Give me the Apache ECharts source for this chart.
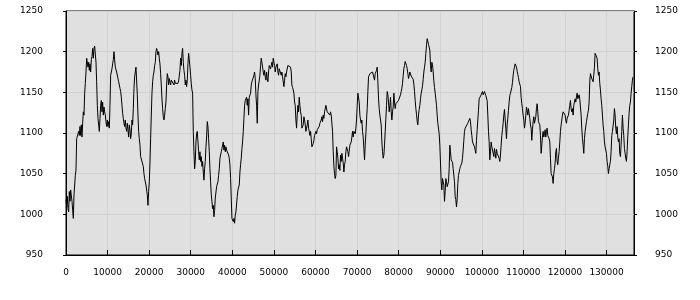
<!DOCTYPE html>
<html>
<head>
<meta charset="utf-8">
<script src="https://cdn.jsdelivr.net/npm/echarts@6/dist/echarts.min.js"></script>
<style>html,body{margin:0;padding:0;background:#fff}#c{width:700px;height:300px}</style>
</head>
<body>
<div id="c"></div>
<script>
// first sample at x = 0
const firstPoint = [0, 1018];
// x ranges covered by each traced segment
const segX = [[160,26123],[26283,53687],[53847,81412],[81572,108977],[109137,136542]];
const seg1 = [1009,1022,1007,1003,1028,1016,1030,1028,1016,1005,995,1024,1036,1048,1054,1093,1095,1099,1102,1097,1108,1097,1110,1095,1112,1126,1122,1149,1161,1175,1192,1190,1181,1187,1177,1185,1175,1190,1194,1204,1192,1204,1207,1209,1187,1163,1134,1118,1110,1102,1118,1134,1140,1126,1138,1122,1132,1126,1122,1114,1108,1116,1108,1114,1106,1134,1171,1175,1179,1185,1190,1200,1190,1181,1183,1175,1173,1167,1163,1159,1155,1151,1144,1134,1124,1118,1112,1108,1116,1106,1102,1112,1104,1095,1110,1104,1093,1099,1116,1110,1130,1155,1169,1175,1181,1179,1147,1122,1102,1093,1085,1071,1069,1071,1069,1059,1050,1044,1044,1036,1034,1024,1011,1028,1040,1063,1093,1122,1149,1163,1171,1175,1183,1187,1200,1204,1206,1196,1200,1192,1185,1173,1159,1142,1130,1120,1116,1122,1130,1138,1159,1173,1169,1159,1167,1163,1159,1165,1163,1167,1163,1159,1165];
const seg2 = [1161,1160,1159,1162,1161,1164,1165,1177,1192,1183,1198,1204,1187,1177,1171,1159,1165,1157,1165,1185,1198,1190,1181,1171,1161,1153,1149,1102,1077,1056,1065,1089,1099,1102,1104,1077,1067,1077,1065,1071,1059,1065,1052,1042,1056,1065,1083,1095,1114,1108,1093,1077,1056,1040,1024,1016,1007,1011,997,1005,1020,1020,1034,1036,1040,1048,1056,1069,1073,1077,1081,1083,1089,1079,1085,1077,1083,1079,1077,1081,1073,1069,1061,1044,1020,995,993,991,995,989,999,1003,1005,1022,1030,1032,1036,1052,1061,1069,1081,1089,1102,1118,1134,1140,1140,1144,1134,1142,1122,1144,1142,1149,1159,1163,1165,1161,1171,1175,1167,1147,1134,1112,1151,1159,1165,1171,1183,1192,1190,1181,1175,1171,1177,1169,1165,1175,1167,1163,1175,1183,1185,1179,1183,1187,1181,1192,1187,1183,1175,1181,1179,1185,1175,1171,1179,1181,1177,1171,1175,1169,1167,1157,1165,1173,1169,1175,1177,1183,1185,1181];
const seg3 = [1185,1181,1175,1159,1156,1153,1149,1138,1134,1116,1106,1122,1134,1126,1144,1134,1126,1122,1106,1104,1110,1120,1116,1110,1102,1106,1110,1116,1106,1102,1097,1102,1093,1083,1081,1087,1091,1097,1095,1102,1099,1104,1102,1106,1108,1112,1114,1116,1120,1114,1122,1118,1126,1128,1134,1132,1126,1128,1124,1126,1122,1126,1122,1120,1102,1077,1059,1050,1044,1048,1083,1077,1069,1056,1061,1054,1073,1065,1075,1069,1063,1052,1061,1065,1077,1083,1085,1077,1071,1073,1085,1085,1089,1095,1102,1095,1102,1104,1099,1106,1116,1134,1149,1151,1138,1122,1116,1112,1116,1102,1095,1081,1067,1085,1099,1116,1130,1151,1169,1171,1173,1171,1175,1173,1175,1177,1173,1165,1173,1175,1177,1181,1163,1142,1130,1122,1116,1110,1089,1077,1069,1073,1085,1102,1118,1134,1151,1147,1138,1126,1134,1144,1126,1116,1126,1132,1149,1138,1130,1136,1134,1138,1134,1140,1138,1142,1147,1151,1155,1161,1171,1179,1183];
const seg4 = [1188,1187,1183,1179,1173,1167,1169,1175,1173,1170,1172,1171,1166,1160,1151,1140,1130,1123,1114,1110,1122,1129,1134,1142,1149,1153,1158,1166,1175,1181,1187,1198,1208,1216,1215,1209,1207,1202,1183,1175,1187,1184,1175,1164,1156,1149,1142,1134,1122,1112,1110,1099,1085,1063,1040,1030,1044,1042,1036,1016,1028,1044,1040,1034,1036,1040,1056,1085,1077,1067,1066,1064,1056,1056,1040,1022,1018,1009,1019,1038,1048,1052,1056,1059,1061,1063,1069,1079,1091,1102,1106,1108,1106,1106,1112,1113,1114,1118,1114,1104,1097,1089,1089,1087,1083,1079,1075,1091,1104,1116,1128,1142,1144,1140,1147,1147,1151,1147,1149,1151,1150,1146,1148,1140,1122,1102,1089,1067,1077,1089,1083,1079,1075,1071,1081,1075,1069,1080,1075,1074,1075,1069,1065,1073,1085,1097,1104,1112,1122,1129,1127,1106,1093,1110,1118,1128,1138,1146,1149,1150,1156,1162,1171,1177,1181,1185,1185,1181,1176,1172,1168,1163];
const seg5 = [1165,1157,1144,1136,1130,1122,1116,1106,1112,1122,1132,1128,1122,1130,1124,1118,1110,1106,1091,1104,1114,1120,1112,1116,1120,1130,1136,1126,1114,1116,1110,1097,1075,1085,1095,1102,1095,1099,1104,1095,1102,1106,1097,1095,1093,1089,1069,1050,1048,1046,1038,1050,1056,1063,1077,1081,1065,1061,1069,1077,1089,1102,1110,1116,1122,1126,1124,1126,1122,1116,1112,1118,1120,1122,1128,1134,1140,1130,1126,1130,1122,1134,1138,1142,1138,1144,1149,1142,1140,1147,1142,1132,1122,1106,1093,1085,1075,1093,1102,1104,1114,1116,1124,1128,1138,1163,1173,1171,1167,1169,1163,1171,1181,1198,1200,1196,1192,1179,1171,1175,1161,1153,1142,1134,1122,1110,1102,1089,1083,1081,1075,1065,1059,1050,1056,1061,1065,1077,1097,1102,1104,1116,1130,1122,1106,1099,1108,1095,1089,1093,1075,1071,1085,1102,1122,1106,1097,1081,1075,1069,1065,1077,1095,1110,1124,1134,1138,1149,1157,1165,1169,1169];
const yTicks = {min: 950, max: 1250, step: 50};
const xTicks = {min: 0, max: 136600, step: 10000};

const segs = [seg1, seg2, seg3, seg4, seg5];
const data = [firstPoint];
segs.forEach((s, k) => {
  const a = segX[k][0], b = segX[k][1];
  s.forEach((v, i) => data.push([a + (b - a) * i / (s.length - 1), v]));
});

const plain = v => String(v);
const font = {fontFamily: 'DejaVu Sans', fontSize: 9, color: '#000', formatter: plain};
const chart = echarts.init(document.getElementById('c'), null, {renderer: 'canvas'});
chart.setOption({
  animation: false,
  grid: {left: 66, right: 66, top: 11, bottom: 45, show: true, backgroundColor: '#e0e0e0', borderColor: '#000', borderWidth: 1},
  xAxis: {
    type: 'value', min: xTicks.min, max: xTicks.max, interval: xTicks.step,
    axisLine: {show: true, lineStyle: {color: '#000'}},
    axisTick: {show: true, inside: true, length: 5, lineStyle: {color: '#000'}},
    axisLabel: Object.assign({margin: 13, showMaxLabel: false}, font),
    splitLine: {show: true, lineStyle: {color: '#d2d2d2', width: 1}}
  },
  yAxis: [
    {
      type: 'value', position: 'left', min: yTicks.min, max: yTicks.max, interval: yTicks.step,
      axisLine: {show: true, lineStyle: {color: '#000'}},
      axisTick: {show: true, length: 3, lineStyle: {color: '#000'}},
      axisLabel: Object.assign({margin: 23}, font),
      splitLine: {show: true, lineStyle: {color: '#d2d2d2', width: 1}}
    },
    {
      type: 'value', position: 'right', min: yTicks.min, max: yTicks.max, interval: yTicks.step,
      axisLine: {show: true, lineStyle: {color: '#000'}},
      axisTick: {show: true, length: 3, lineStyle: {color: '#000'}},
      axisLabel: Object.assign({margin: 21}, font),
      splitLine: {show: false}
    }
  ],
  series: [{
    type: 'line', data: data, showSymbol: false, symbol: 'none', sampling: null,
    lineStyle: {color: '#000', width: 1}, silent: true
  }]
});
</script>
</body>
</html>
